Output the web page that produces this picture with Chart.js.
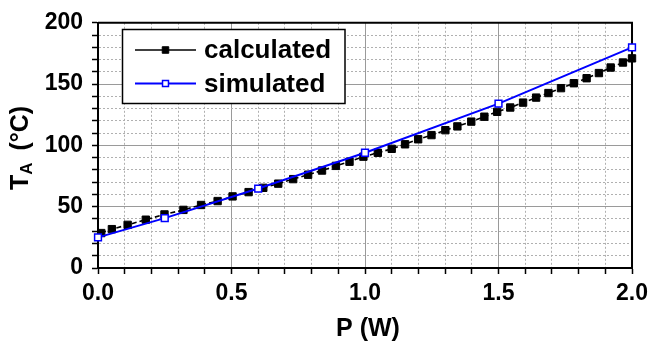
<!DOCTYPE html>
<html>
<head>
<meta charset="utf-8">
<script src="https://cdn.jsdelivr.net/npm/chart.js@4/dist/chart.umd.min.js"></script>
<style>
  html, body { margin: 0; padding: 0; background: #fff; }
  canvas { display: block; }
</style>
</head>
<body>
<canvas id="chart" width="654" height="343"></canvas>
<script>
// calculated curve
const calcP = [0.012, 0.052, 0.111, 0.179, 0.249, 0.320, 0.386, 0.448, 0.504, 0.564,
  0.619, 0.675, 0.731, 0.787, 0.839, 0.891, 0.942, 0.994, 1.048, 1.100,
  1.150, 1.199, 1.249, 1.301, 1.346, 1.398, 1.447, 1.495, 1.544, 1.592,
  1.641, 1.687, 1.734, 1.782, 1.830, 1.876, 1.920, 1.966, 2.0];
const calcT = [28.5, 31.7, 35.2, 39.4, 43.7, 47.4, 51.4, 54.6, 58.4, 61.9,
  65.4, 68.8, 72.5, 76.1, 79.5, 83.3, 86.7, 90.8, 94.0, 97.2,
  100.9, 105.0, 108.4, 112.4, 115.5, 119.4, 123.4, 127.4, 130.9, 134.9,
  139.0, 142.7, 146.7, 150.7, 154.8, 159.0, 163.5, 167.6, 171.0];

// simulated points
const simP = [0, 0.25, 0.6, 1.0, 1.5, 2.0];
const simT = [25, 40.7, 64.8, 94.0, 134.1, 180];

const seriesLabels = ['calculated', 'simulated'];
const xMajor = 0.5, yMajor = 50;

const FONT = "'Liberation Sans', Arial, sans-serif";

function isMajor(v, step) {
  const r = v / step;
  return Math.abs(r - Math.round(r)) < 1e-6;
}

function toPoints(xs, ys) {
  return xs.map((x, i) => ({ x: x, y: ys[i] }));
}

// legend box inside the plot
const boxLegend = {
  id: 'boxLegend',
  afterDatasetsDraw(chart) {
    const ctx = chart.ctx;
    ctx.save();
    ctx.fillStyle = '#fff';
    ctx.strokeStyle = '#000';
    ctx.lineWidth = 1.5;
    ctx.fillRect(122.5, 29.5, 222.5, 74);
    ctx.strokeRect(122.5, 29.5, 222.5, 74);
    const rows = [50, 83.5];
    chart.data.datasets.forEach((ds, i) => {
      const y = rows[i];
      ctx.strokeStyle = ds.borderColor;
      ctx.lineWidth = ds.borderWidth;
      ctx.setLineDash([]);
      ctx.beginPath();
      ctx.moveTo(135, y);
      ctx.lineTo(196, y);
      ctx.stroke();
      ctx.fillStyle = ds.pointBackgroundColor;
      ctx.strokeStyle = ds.pointBorderColor;
      ctx.lineWidth = ds.pointBorderWidth;
      Chart.helpers.drawPoint(ctx, { pointStyle: 'rect', radius: ds.pointRadius - 0.6, borderWidth: ds.pointBorderWidth, rotation: 0 }, 165.5, y);
      ctx.fillStyle = '#000';
      ctx.font = 'bold 26px ' + FONT;
      ctx.textAlign = 'left';
      ctx.textBaseline = 'middle';
      ctx.fillText(ds.label, 204, y + 1);
    });
    ctx.restore();
  }
};

// top / right frame of plot
const frame = {
  id: 'frame',
  beforeDatasetsDraw(chart) {
    const a = chart.chartArea;
    const ctx = chart.ctx;
    ctx.save();
    ctx.strokeStyle = '#000';
    ctx.lineWidth = 2;
    ctx.beginPath();
    ctx.moveTo(a.left, a.top);
    ctx.lineTo(a.right, a.top);
    ctx.lineTo(a.right, a.bottom);
    ctx.stroke();
    ctx.restore();
  }
};

// axis titles (y title needs a subscript)
const axisTitles = {
  id: 'axisTitles',
  afterDraw(chart) {
    const a = chart.chartArea;
    const ctx = chart.ctx;
    ctx.save();
    ctx.fillStyle = '#000';
    ctx.font = 'bold 25px ' + FONT;
    ctx.textAlign = 'center';
    ctx.textBaseline = 'alphabetic';
    ctx.fillText('P (W)', (a.left + a.right) / 2 + 3, 336);

    const main = 'bold 25px ' + FONT, sub = 'bold 17px ' + FONT;
    ctx.font = main;
    const wT = ctx.measureText('T').width;
    const wRest = ctx.measureText(' (°C)').width;
    ctx.font = sub;
    const wA = ctx.measureText('A').width;
    const gap = 5;
    const total = wT + wA + gap + wRest;
    ctx.translate(28, 148);
    ctx.rotate(-Math.PI / 2);
    ctx.textAlign = 'left';
    let x = -total / 2;
    ctx.font = main;
    ctx.fillText('T', x, 0);
    x += wT;
    ctx.font = sub;
    ctx.fillText('A', x, 4);
    x += wA + gap;
    ctx.font = main;
    ctx.fillText(' (°C)', x, 0);
    ctx.restore();
  }
};

function gridOpts(step) {
  return {
    color: c => (c.tick && isMajor(c.tick.value, step)) ? '#9a9a9a' : '#b0b0b0',
    lineWidth: 1,
    tickColor: '#000',
    tickLength: 6,
    tickWidth: 1.5
  };
}

function borderOpts(step) {
  return {
    display: true,
    color: '#000',
    width: 2,
    dash: c => (c.tick && !isMajor(c.tick.value, step)) ? [2, 2] : []
  };
}

new Chart(document.getElementById('chart'), {
  type: 'scatter',
  data: {
    datasets: [
      {
        label: seriesLabels[0],
        data: toPoints(calcP, calcT),
        showLine: true,
        borderColor: '#000',
        borderWidth: 1.6,
        borderDash: [5, 3],
        pointStyle: 'rect',
        pointRadius: 5.2,
        pointBackgroundColor: '#000',
        pointBorderColor: '#000',
        pointBorderWidth: 1,
        clip: 10,
        order: 1
      },
      {
        label: seriesLabels[1],
        data: toPoints(simP, simT),
        showLine: true,
        borderColor: '#0000ff',
        borderWidth: 2,
        pointStyle: 'rect',
        pointRadius: 4.8,
        pointBackgroundColor: '#fff',
        pointBorderColor: '#0000ff',
        pointBorderWidth: 1.5,
        clip: 10,
        order: 0
      }
    ]
  },
  options: {
    responsive: false,
    animation: false,
    devicePixelRatio: 1,
    layout: { padding: { top: 19, right: 19, left: 0, bottom: 0 } },
    plugins: {
      legend: { display: false },
      tooltip: { enabled: false }
    },
    scales: {
      x: {
        type: 'linear',
        min: 0,
        max: 2,
        afterFit: s => { s.height = 75; },
        grid: gridOpts(xMajor),
        border: borderOpts(xMajor),
        ticks: {
          stepSize: 0.1,
          autoSkip: false,
          maxRotation: 0,
          padding: 6,
          color: '#000',
          font: { family: FONT, weight: 'bold', size: 23 },
          callback: v => isMajor(v, xMajor) ? v.toFixed(1) : ''
        }
      },
      y: {
        type: 'linear',
        min: 0,
        max: 200,
        afterFit: s => { s.width = 98; },
        grid: gridOpts(yMajor),
        border: borderOpts(yMajor),
        ticks: {
          stepSize: 10,
          autoSkip: false,
          padding: 9,
          color: '#000',
          font: { family: FONT, weight: 'bold', size: 23 },
          callback: v => isMajor(v, yMajor) ? String(v) : ''
        }
      }
    }
  },
  plugins: [frame, boxLegend, axisTitles]
});
</script>
</body>
</html>
